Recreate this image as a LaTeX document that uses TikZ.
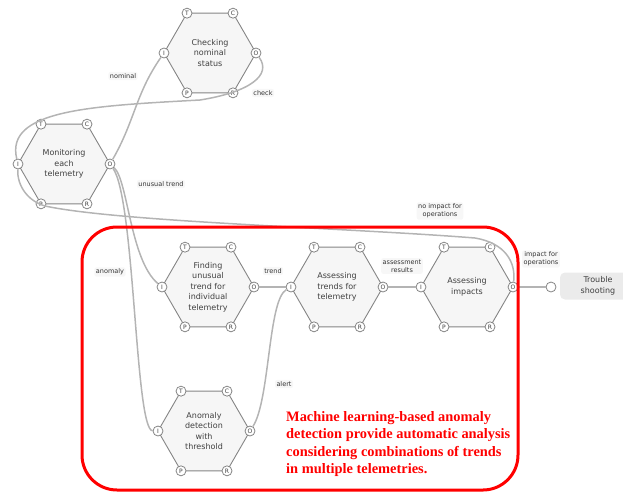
\documentclass[tikz,border=0pt]{standalone}
\usepackage{fontspec}
\setmainfont{DejaVu Sans}
\newfontfamily\notefont{Liberation Serif}
\usetikzlibrary{shapes.geometric}

\definecolor{hexline}{HTML}{858585}
\definecolor{hexfill}{HTML}{F6F6F6}
\definecolor{linkgray}{HTML}{B4B4B4}
\definecolor{lblfill}{HTML}{F7F7F7}
\definecolor{tsfill}{HTML}{EBEBEB}

\tikzset{
  fn/.style={regular polygon, regular polygon sides=6,
    draw=hexline, line width=0.9pt, fill=hexfill, minimum size=92pt,
    inner sep=0pt, outer sep=0pt, align=center,
    font=\fontsize{8}{10.5}\selectfont, text=black!75},
  aspect/.style={circle, draw=hexline, line width=0.8pt, fill=white,
    minimum size=10pt, inner sep=0pt, font=\fontsize{6}{6}\selectfont, text=black!75},
  link/.style={draw=linkgray, line width=1.5pt},
  lbl/.style={fill=lblfill, rounded corners=2pt, inner sep=1.5pt, align=center,
    font=\fontsize{6.5}{8}\selectfont, text=black!80},
}

\begin{document}
\begin{tikzpicture}[x=1pt,y=1pt]
  \useasboundingbox (0,0) rectangle (623,-493);

  % Functions
  \node[fn] (chk) at (210,-53) {Checking\\nominal\\status};
  \node[fn] (mon) at (64,-164) {Monitoring\\each\\telemetry};
  \node[fn] (fnd) at (208,-287) {Finding\\unusual\\trend for\\individual\\telemetry};
  \node[fn] (ass) at (337,-287) {Assessing\\trends for\\telemetry};
  \node[fn] (imp) at (467,-287) {Assessing\\impacts};
  \node[fn] (ano) at (204,-431) {Anomaly\\detection\\with\\threshold};

  % Aspects of each function
  \foreach \f in {chk,mon,fnd,ass,imp,ano}
    \foreach \a/\k in {C/1,T/2,I/3,P/4,R/5,O/6}
      \node[aspect] (\f-\a) at (\f.corner \k) {\a};

  % Trouble shooting
  \node[fill=tsfill, rounded corners=5pt, minimum width=76pt, minimum height=27pt,
    align=center, font=\fontsize{8}{10.5}\selectfont, text=black!75] (ts) at (598,-286)
    {Trouble\\shooting};
  \node[circle, draw=hexline, line width=0.8pt, fill=white, minimum size=10pt,
    inner sep=0pt] (ts-in) at (551,-287) {};

  % Couplings
  \draw[link] (mon-O) to[out=60,in=235] (chk-I);
  \draw[link] (chk-O) .. controls (272,-75) and (250,-92) .. (200,-100)
    .. controls (90,-106) and (5,-110) .. (mon-I);
  \draw[link] (imp-O) .. controls (516,-262) and (505,-243) .. (475,-238)
    .. controls (350,-228) and (120,-222) .. (45,-206)
    .. controls (28,-201) and (17,-186) .. (mon-I);
  \draw[link] (mon-O) .. controls (128,-180) and (130,-260) .. (fnd-I);
  \draw[link] (mon-O) .. controls (135,-200) and (135,-430) .. (ano-I);
  \draw[link] (fnd-O) -- (ass-I);
  \draw[link] (ano-O) .. controls (270,-400) and (268,-300) .. (ass-I);
  \draw[link] (ass-O) -- (imp-I);
  \draw[link] (imp-O) -- (ts-in);

  % Labels
  \node[lbl] (l-nom) at (123,-76) {nominal};
  \node[lbl] (l-chk) at (263,-93) {check};
  \node[lbl] (l-unu) at (161,-184) {unusual trend};
  \node[lbl] (l-noi) at (440,-211) {no impact for\\operations};
  \node[lbl] (l-ano) at (110,-272) {anomaly};
  \node[lbl] (l-trd) at (273,-271) {trend};
  \node[lbl] (l-res) at (402,-266) {assessment\\results};
  \node[lbl] (l-imp) at (541,-259) {impact for\\operations};
  \node[lbl] (l-alr) at (284,-384) {alert};

  % Machine learning part
  \draw[red, line width=3pt, rounded corners=35pt] (82,-227) rectangle (518,-490);
  \node[anchor=west, inner sep=0pt, align=left, text=red,
    font=\notefont\bfseries\fontsize{14.4}{17.6}\selectfont] (ml) at (286,-444)
    {Machine learning-based anomaly\\detection provide automatic analysis\\
     considering combinations of trends\\in multiple telemetries.};
\end{tikzpicture}
\end{document}
